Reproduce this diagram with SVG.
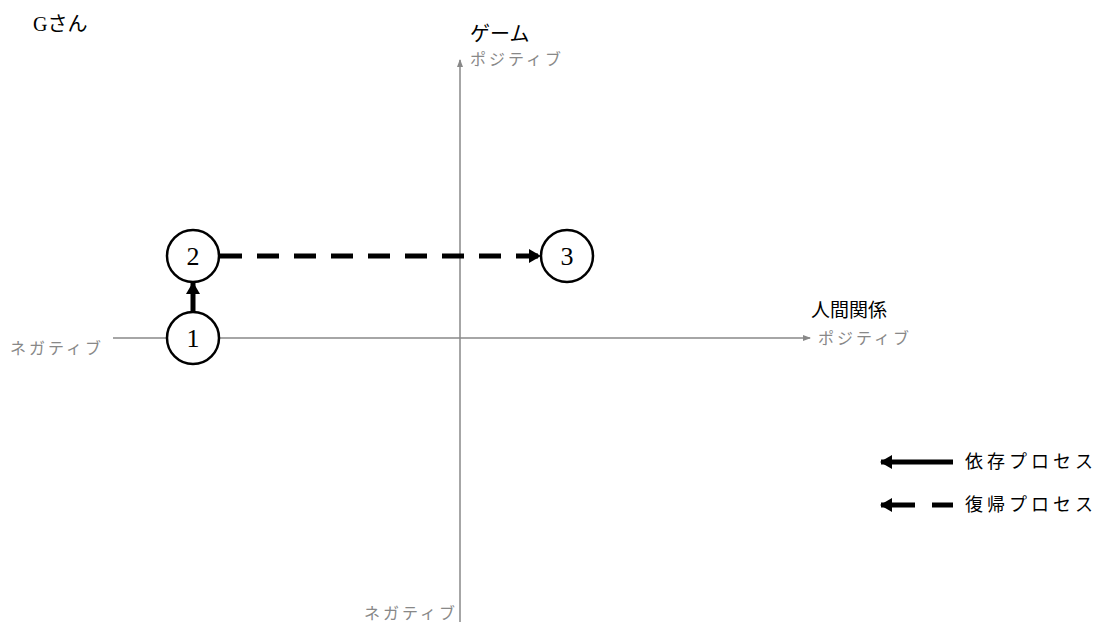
<svg xmlns="http://www.w3.org/2000/svg" width="1100" height="624" viewBox="0 0 1100 624">
<style>
text{font-family:"Liberation Serif","Noto Sans CJK JP",serif;}
.t{font-size:20px;fill:#000;}
.g{font-size:16px;fill:#888;letter-spacing:3px;}
.n{font-size:26px;fill:#000;text-anchor:middle;}
.lg{font-size:18px;fill:#000;letter-spacing:4px;}
.node circle{fill:#fff;stroke:#000;stroke-width:2.5;}
</style>
<defs>
<marker id="ga" markerWidth="8" markerHeight="8" refX="7" refY="4" orient="auto" markerUnits="userSpaceOnUse"><path d="M0,1 L8,4 L0,7 Z" fill="#888"/></marker>
<marker id="ba" markerWidth="12" markerHeight="14" refX="11" refY="7" orient="auto" markerUnits="userSpaceOnUse"><path d="M0,0 L12,7 L0,14 Z" fill="#000"/></marker>
</defs>
<rect width="1100" height="624" fill="#fff"/>
<g id="axes">
<line x1="460" y1="622" x2="460" y2="60" stroke="#888" stroke-width="1.5" marker-end="url(#ga)"/>
<line x1="113" y1="338" x2="810" y2="338" stroke="#888" stroke-width="1.5" marker-end="url(#ga)"/>
</g>
<g id="labels">
<text class="t" x="33" y="31">Gさん</text>
<text class="t" x="470" y="41">ゲーム</text>
<text class="g" x="470" y="65">ポジティブ</text>
<text class="t" x="811" y="317" style="font-size:19px">人間関係</text>
<text class="g" x="818" y="344">ポジティブ</text>
<text class="g" x="10" y="354">ネガティブ</text>
<text class="g" x="364" y="619">ネガティブ</text>
</g>
<g id="connectors">
<line x1="193" y1="311" x2="193" y2="283" stroke="#000" stroke-width="5" marker-end="url(#ba)"/>
<line x1="220" y1="256" x2="540" y2="256" stroke="#000" stroke-width="5" stroke-dasharray="22,15" marker-end="url(#ba)"/>
</g>
<g id="node1" class="node"><circle cx="193" cy="338" r="26"/><text class="n" x="193" y="347">1</text></g>
<g id="node2" class="node"><circle cx="193" cy="256" r="26"/><text class="n" x="193" y="265">2</text></g>
<g id="node3" class="node"><circle cx="567" cy="256" r="26"/><text class="n" x="567" y="265">3</text></g>
<g id="legend">
<line x1="953" y1="462" x2="881" y2="462" stroke="#000" stroke-width="5" marker-end="url(#ba)"/>
<text class="lg" x="965" y="468">依存プロセス</text>
<line x1="953" y1="505" x2="932" y2="505" stroke="#000" stroke-width="5"/>
<line x1="915" y1="505" x2="881" y2="505" stroke="#000" stroke-width="5" marker-end="url(#ba)"/>
<text class="lg" x="965" y="511">復帰プロセス</text>
</g>
</svg>
